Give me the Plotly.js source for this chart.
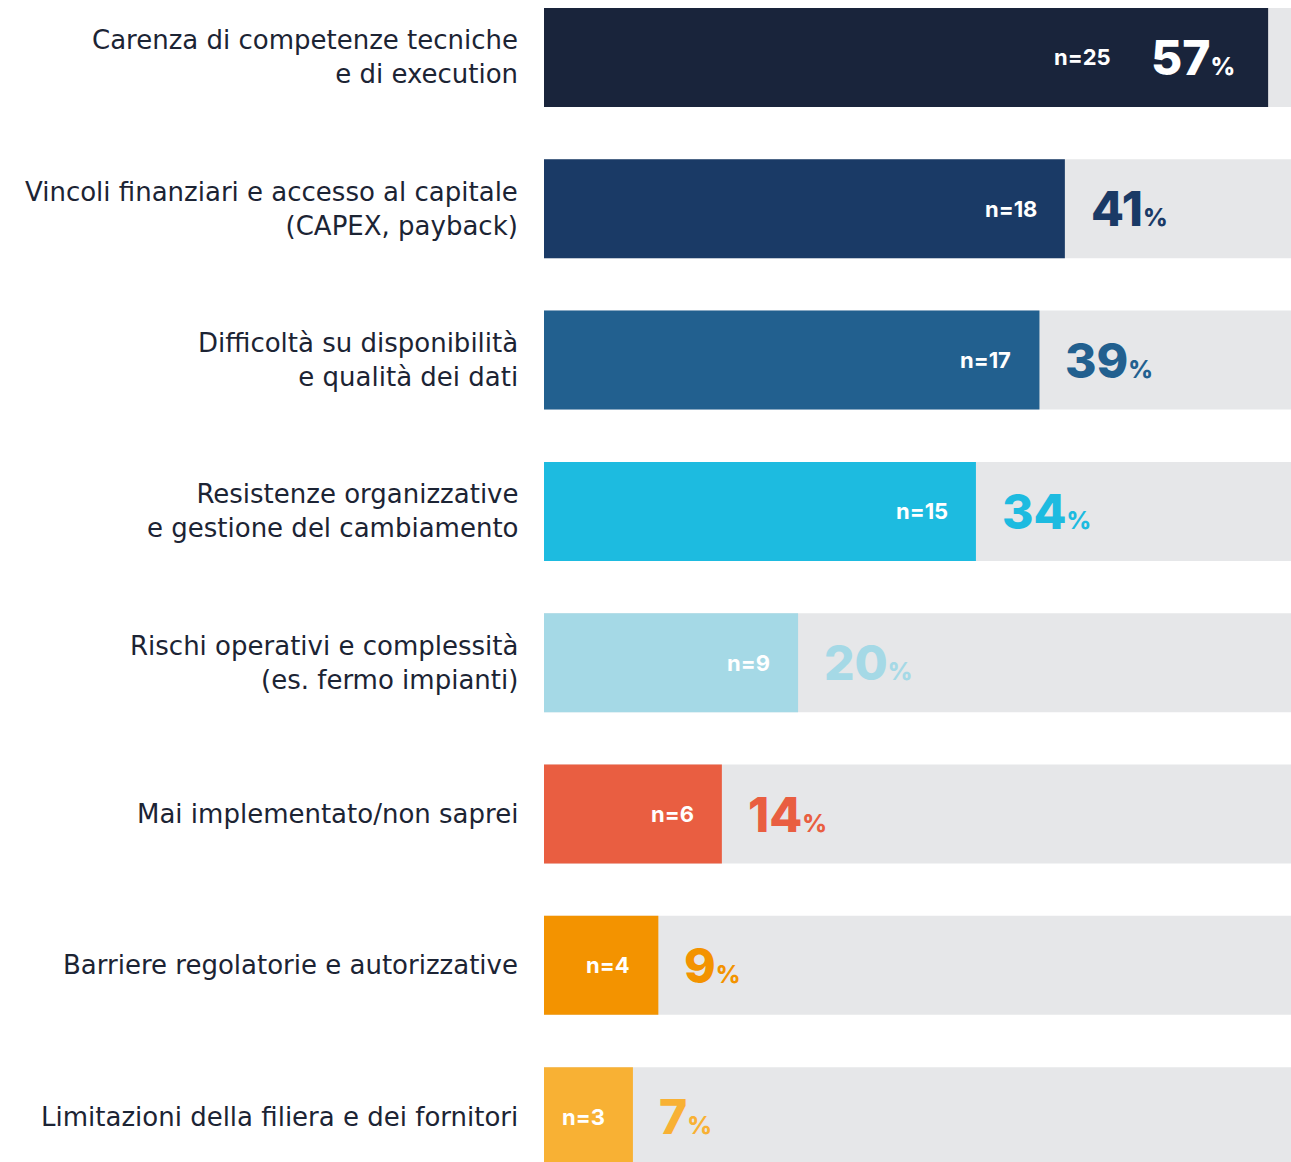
<!DOCTYPE html>
<html>
<head>
<meta charset="utf-8">
<script src="https://cdn.plot.ly/plotly-3.0.1.min.js"></script>
<style>html,body{margin:0;padding:0;background:#fff;}#chart{width:1291px;height:1162px;}</style>
</head>
<body>
<div id="chart"></div>
<script>
const categories = [
  "Carenza di competenze tecniche<br>e di execution",
  "Vincoli finanziari e accesso al capitale<br>(CAPEX, payback)",
  "Difficoltà su disponibilità<br>e qualità dei dati",
  "Resistenze organizzative<br>e gestione del cambiamento",
  "Rischi operativi e complessità<br>(es. fermo impianti)",
  "Mai implementato/non saprei",
  "Barriere regolatorie e autorizzative",
  "Limitazioni della filiera e dei fornitori"
];
const nValues = [25, 18, 17, 15, 9, 6, 4, 3];
const pctValues = [57, 41, 39, 34, 20, 14, 9, 7];
const barColors = ["#19243b", "#1a3a66", "#22608f", "#1dbbe0", "#a5d9e6", "#e95e41", "#f39300", "#f8b134"];
const pctColors = ["#ffffff", "#1a3a66", "#22608f", "#1dbbe0", "#a5d9e6", "#e95e41", "#f39300", "#f8b134"];

const XMAX = 58.8;
const FONT = "Inter, 'Open Sans', sans-serif";
const LABEL_FONT = "'DejaVu Sans', sans-serif";
const pos = categories.map((_, i) => i);

const traces = [
  {
    type: "bar", orientation: "h",
    x: pos.map(() => XMAX), y: pos,
    width: 0.654,
    marker: {color: "#e6e7e9"},
    hoverinfo: "skip"
  },
  {
    type: "bar", orientation: "h",
    x: pctValues, y: pos,
    width: 0.654,
    marker: {color: barColors},
    hoverinfo: "skip"
  }
];

const annotations = [];
categories.forEach((c, i) => {
  annotations.push({
    xref: "paper", x: 0, y: i, yref: "y",
    xanchor: "right", yanchor: "middle", xshift: -24,
    align: "right", showarrow: false,
    text: c,
    font: {family: LABEL_FONT, size: 26, color: "#1c2434"}
  });
  annotations.push({
    xref: "x", x: pctValues[i], y: i, yref: "y",
    xanchor: "right", yanchor: "middle",
    xshift: i === 0 ? -155 : -26,
    showarrow: false,
    text: "<b>n=" + nValues[i] + "</b>",
    font: {family: FONT, size: 22, color: "#ffffff"}
  });
  const inside = i === 0;
  annotations.push({
    xref: "x", x: pctValues[i], y: i, yref: "y",
    xanchor: inside ? "right" : "left", yanchor: "middle",
    xshift: inside ? -31 : 24, yshift: 0,
    showarrow: false,
    text: pctValues[i] + "<span style='font-size:24px'>%</span>",
    font: {family: FONT, size: 48, weight: 800, color: pctColors[i]}
  });
});

const layout = {
  width: 1291, height: 1162,
  margin: {l: 544, r: 0, t: 0, b: 0},
  paper_bgcolor: "#ffffff", plot_bgcolor: "#ffffff",
  barmode: "overlay",
  showlegend: false,
  xaxis: {range: [0, XMAX], visible: false, fixedrange: true},
  yaxis: {range: [7.300, -0.380], visible: false, fixedrange: true},
  annotations: annotations
};

Plotly.newPlot("chart", traces, layout, {displayModeBar: false, staticPlot: true});
</script>
</body>
</html>
